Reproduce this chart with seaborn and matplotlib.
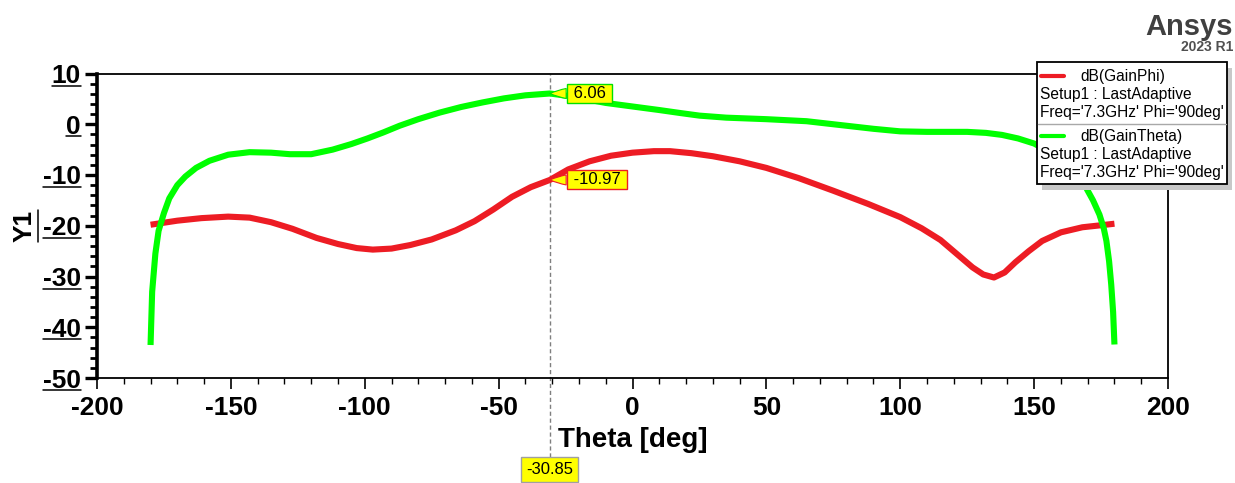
import numpy as np
import pandas as pd
import matplotlib
matplotlib.use("Agg")
import matplotlib.pyplot as plt
import matplotlib.transforms as mtransforms
from matplotlib.lines import Line2D
from matplotlib.patches import Rectangle
from matplotlib.ticker import MultipleLocator
import seaborn as sns

# ---- far-field cut, Phi = 90 deg, 7.3 GHz ----
theta_phi = [-180, -170, -161, -151, -143, -135, -127, -118, -110, -103, -97, -90,
             -83, -75, -66, -59, -52, -45, -38, -30.85, -24, -16, -8, 0, 8, 14, 22,
             30, 40, 50, 62, 75, 88, 100, 108, 115, 121, 127, 131, 135, 139, 143,
             148, 153, 160, 168, 175, 180]
gain_phi = [-19.8, -19.0, -18.5, -18.2, -18.4, -19.3, -20.6, -22.4, -23.6, -24.4,
            -24.7, -24.5, -23.8, -22.7, -20.9, -19.1, -16.8, -14.3, -12.4, -10.97,
            -8.9, -7.3, -6.2, -5.6, -5.3, -5.3, -5.7, -6.3, -7.3, -8.6, -10.6,
            -13.1, -15.7, -18.3, -20.5, -22.8, -25.5, -28.2, -29.6, -30.2, -29.2,
            -27.2, -25.0, -23.0, -21.3, -20.3, -19.9, -19.6]

theta_theta = [-180, -179.4, -178.2, -177, -175, -173, -170, -167, -163, -158, -151,
               -143, -135, -128, -120, -112, -105, -99, -93, -87, -80, -72, -64,
               -56, -48, -40, -30.85, -23, -16, -10, 0, 10, 18, 25, 35, 50, 65, 80,
               90, 100, 110, 125, 132, 138, 144, 150, 156, 161, 165, 169.5, 172,
               174.4, 176, 177, 178, 178.8, 179.5, 180]
gain_theta = [-43.5, -33.0, -25.5, -21.0, -17.5, -14.6, -12.0, -10.3, -8.6, -7.2,
              -6.0, -5.5, -5.6, -5.9, -5.9, -5.0, -3.9, -2.8, -1.6, -0.3, 1.0, 2.3,
              3.4, 4.3, 5.1, 5.7, 6.06, 5.5, 4.8, 4.2, 3.5, 2.8, 2.2, 1.7, 1.3, 1.0,
              0.6, -0.3, -0.9, -1.4, -1.5, -1.5, -1.7, -2.1, -2.8, -3.8, -5.5, -7.5,
              -9.8, -12.6, -15.0, -17.8, -20.5, -23.0, -27.0, -31.6, -37.0, -43.4]

trace_names = ["dB(GainPhi)", "dB(GainTheta)"]
trace_colors = ["#ed1c24", "#00ff00"]
legend_sub = ["Setup1 : LastAdaptive", "Freq='7.3GHz' Phi='90deg'"]

marker_theta = -30.85

x_ticks = [-200, -150, -100, -50, 0, 50, 100, 150, 200]
y_ticks = [10, 0, -10, -20, -30, -40, -50]

df = pd.concat([
    pd.DataFrame({"theta": theta_phi, "gain": gain_phi, "trace": trace_names[0]}),
    pd.DataFrame({"theta": theta_theta, "gain": gain_theta, "trace": trace_names[1]}),
], ignore_index=True)

sns.set_theme(style="ticks")
plt.rcParams["font.family"] = ["Liberation Sans", "DejaVu Sans"]
plt.rcParams["axes.unicode_minus"] = False

W, H = 1235, 483
fig = plt.figure(figsize=(W / 100, H / 100), dpi=100)
fig.patch.set_facecolor("white")


def fx(px):
    return px / W


def fy(py):
    return 1 - py / H


ax = fig.add_axes([fx(97), fy(378), fx(1168) - fx(97), fy(73.5) - fy(378)])
ax.set_facecolor("white")

sns.lineplot(data=df, x="theta", y="gain", hue="trace", hue_order=trace_names,
             palette=dict(zip(trace_names, trace_colors)), sort=False,
             estimator=None, legend=False, linewidth=4.4, ax=ax,
             solid_capstyle="butt", solid_joinstyle="round")

ax.set_xlim(-200, 200)
ax.set_ylim(-50, 10)
ax.set_xticks(x_ticks)
ax.set_yticks(y_ticks)
ax.xaxis.set_minor_locator(MultipleLocator(10))
ax.yaxis.set_minor_locator(MultipleLocator(2))

for side in ["top", "right", "bottom"]:
    ax.spines[side].set_visible(True)
    ax.spines[side].set_linewidth(1.3)
    ax.spines[side].set_color("black")
ax.spines["left"].set_linewidth(2.6)
ax.spines["left"].set_color("black")

ax.tick_params(axis="y", which="major", direction="out", length=9, width=2.4,
               color="black", labelsize=19, pad=2.5)
ax.tick_params(axis="y", which="minor", direction="out", length=5, width=2.0,
               color="black")
ax.tick_params(axis="x", which="major", direction="out", length=8, width=1.2,
               color="black", labelsize=19, pad=5)
ax.tick_params(axis="x", which="minor", direction="out", length=4, width=1.0,
               color="black")
for lab in ax.get_xticklabels() + ax.get_yticklabels():
    lab.set_fontweight("bold")
    lab.set_color("black")

ax.set_xlabel("Theta [deg]", fontsize=20, fontweight="bold", color="black")
ax.xaxis.set_label_coords(0.5, (378 - 427) / 304.5)
ax.set_ylabel("Y1", fontsize=19, fontweight="bold", color="black")
ax.yaxis.set_label_coords((25 - 97) / 1071, 0.5)
ax.yaxis.label.set_va("center")
ax.yaxis.label.set_ha("center")

# marker line at the selected theta
ax.axvline(marker_theta, ymin=-0.26, ymax=1.0, color="#7f7f7f", lw=1.0,
           ls=(0, (3, 2)), clip_on=False, zorder=1)

# value callouts at the marker
phi_at_marker = gain_phi[theta_phi.index(marker_theta)]
theta_at_marker = gain_theta[theta_theta.index(marker_theta)]
for val, col in [(theta_at_marker, "#00e000"), (phi_at_marker, "#ed1c24")]:
    ax.annotate(f" {val:.2f} ", xy=(marker_theta, val), xytext=(13.5, 0),
                textcoords="offset points", ha="left", va="center", fontsize=12,
                color="black", zorder=6,
                bbox=dict(boxstyle="square,pad=0.12", fc="#ffff00", ec=col, lw=1.0),
                arrowprops=dict(arrowstyle="wedge,tail_width=0.6,shrink_factor=0.6",
                                fc="#ffff00", ec=col, lw=0.8,
                                shrinkA=0, shrinkB=0))

trans = mtransforms.blended_transform_factory(ax.transData, ax.transAxes)
ax.text(marker_theta, (378 - 469) / 304.5, f"{marker_theta:.2f}", transform=trans,
        ha="center", va="center", fontsize=12, color="black", clip_on=False,
        bbox=dict(boxstyle="square,pad=0.3", fc="#ffff00", ec="#a0a0a0", lw=1.0))

# ---- trace legend box ----
lx0, lx1, ly0, ly1 = 1037, 1227, 62, 184
fig.patches.append(Rectangle((fx(lx0 + 5), fy(ly1 + 6)), fx(lx1 - lx0), fy(ly0) - fy(ly1),
                             transform=fig.transFigure, fc="#c8c8c8", ec="none",
                             zorder=10))
fig.patches.append(Rectangle((fx(lx0), fy(ly1)), fx(lx1 - lx0), fy(ly0) - fy(ly1),
                             transform=fig.transFigure, fc="white", ec="black",
                             lw=1.3, zorder=11))
fig.lines.append(Line2D([fx(lx0 + 1), fx(lx1 - 1)], [fy(123.5), fy(123.5)],
                        transform=fig.transFigure, color="#a8a8a8", lw=1.0, zorder=12))
for i, (name, col) in enumerate(zip(trace_names, trace_colors)):
    top = 76 + i * 60
    fig.lines.append(Line2D([fx(1041), fx(1064)], [fy(top), fy(top)],
                            transform=fig.transFigure, color=col, lw=3.0, zorder=12))
    fig.text(fx(1080), fy(top + 1), name, fontsize=11.2, color="black",
             ha="left", va="center", zorder=12)
    for j, sub in enumerate(legend_sub):
        fig.text(fx(1040), fy(top + 19 + 18 * j), sub, fontsize=11.2, color="black",
                 ha="left", va="center", zorder=12)

# ---- product badge ----
fig.text(fx(1233), fy(27), "Ansys", fontsize=21, fontweight="bold", color="#404040",
         ha="right", va="center")
fig.text(fx(1233), fy(47), "2023 R1", fontsize=10, fontweight="bold", color="#505050",
         ha="right", va="center")

# underline the y tick labels and the y label
fig.canvas.draw()
for lab in ax.get_yticklabels():
    if not lab.get_text():
        continue
    bb = lab.get_window_extent()
    yline = bb.y0 + 0.1 * bb.height
    fig.lines.append(Line2D([bb.x0 / W, bb.x1 / W], [yline / H, yline / H],
                            transform=fig.transFigure, color="black", lw=1.1))
bb = ax.yaxis.label.get_window_extent()
xline = bb.x1 + 1
fig.lines.append(Line2D([xline / W, xline / W], [bb.y0 / H, bb.y1 / H],
                        transform=fig.transFigure, color="black", lw=1.1))

fig.savefig("out.png", dpi=100, facecolor="white")
